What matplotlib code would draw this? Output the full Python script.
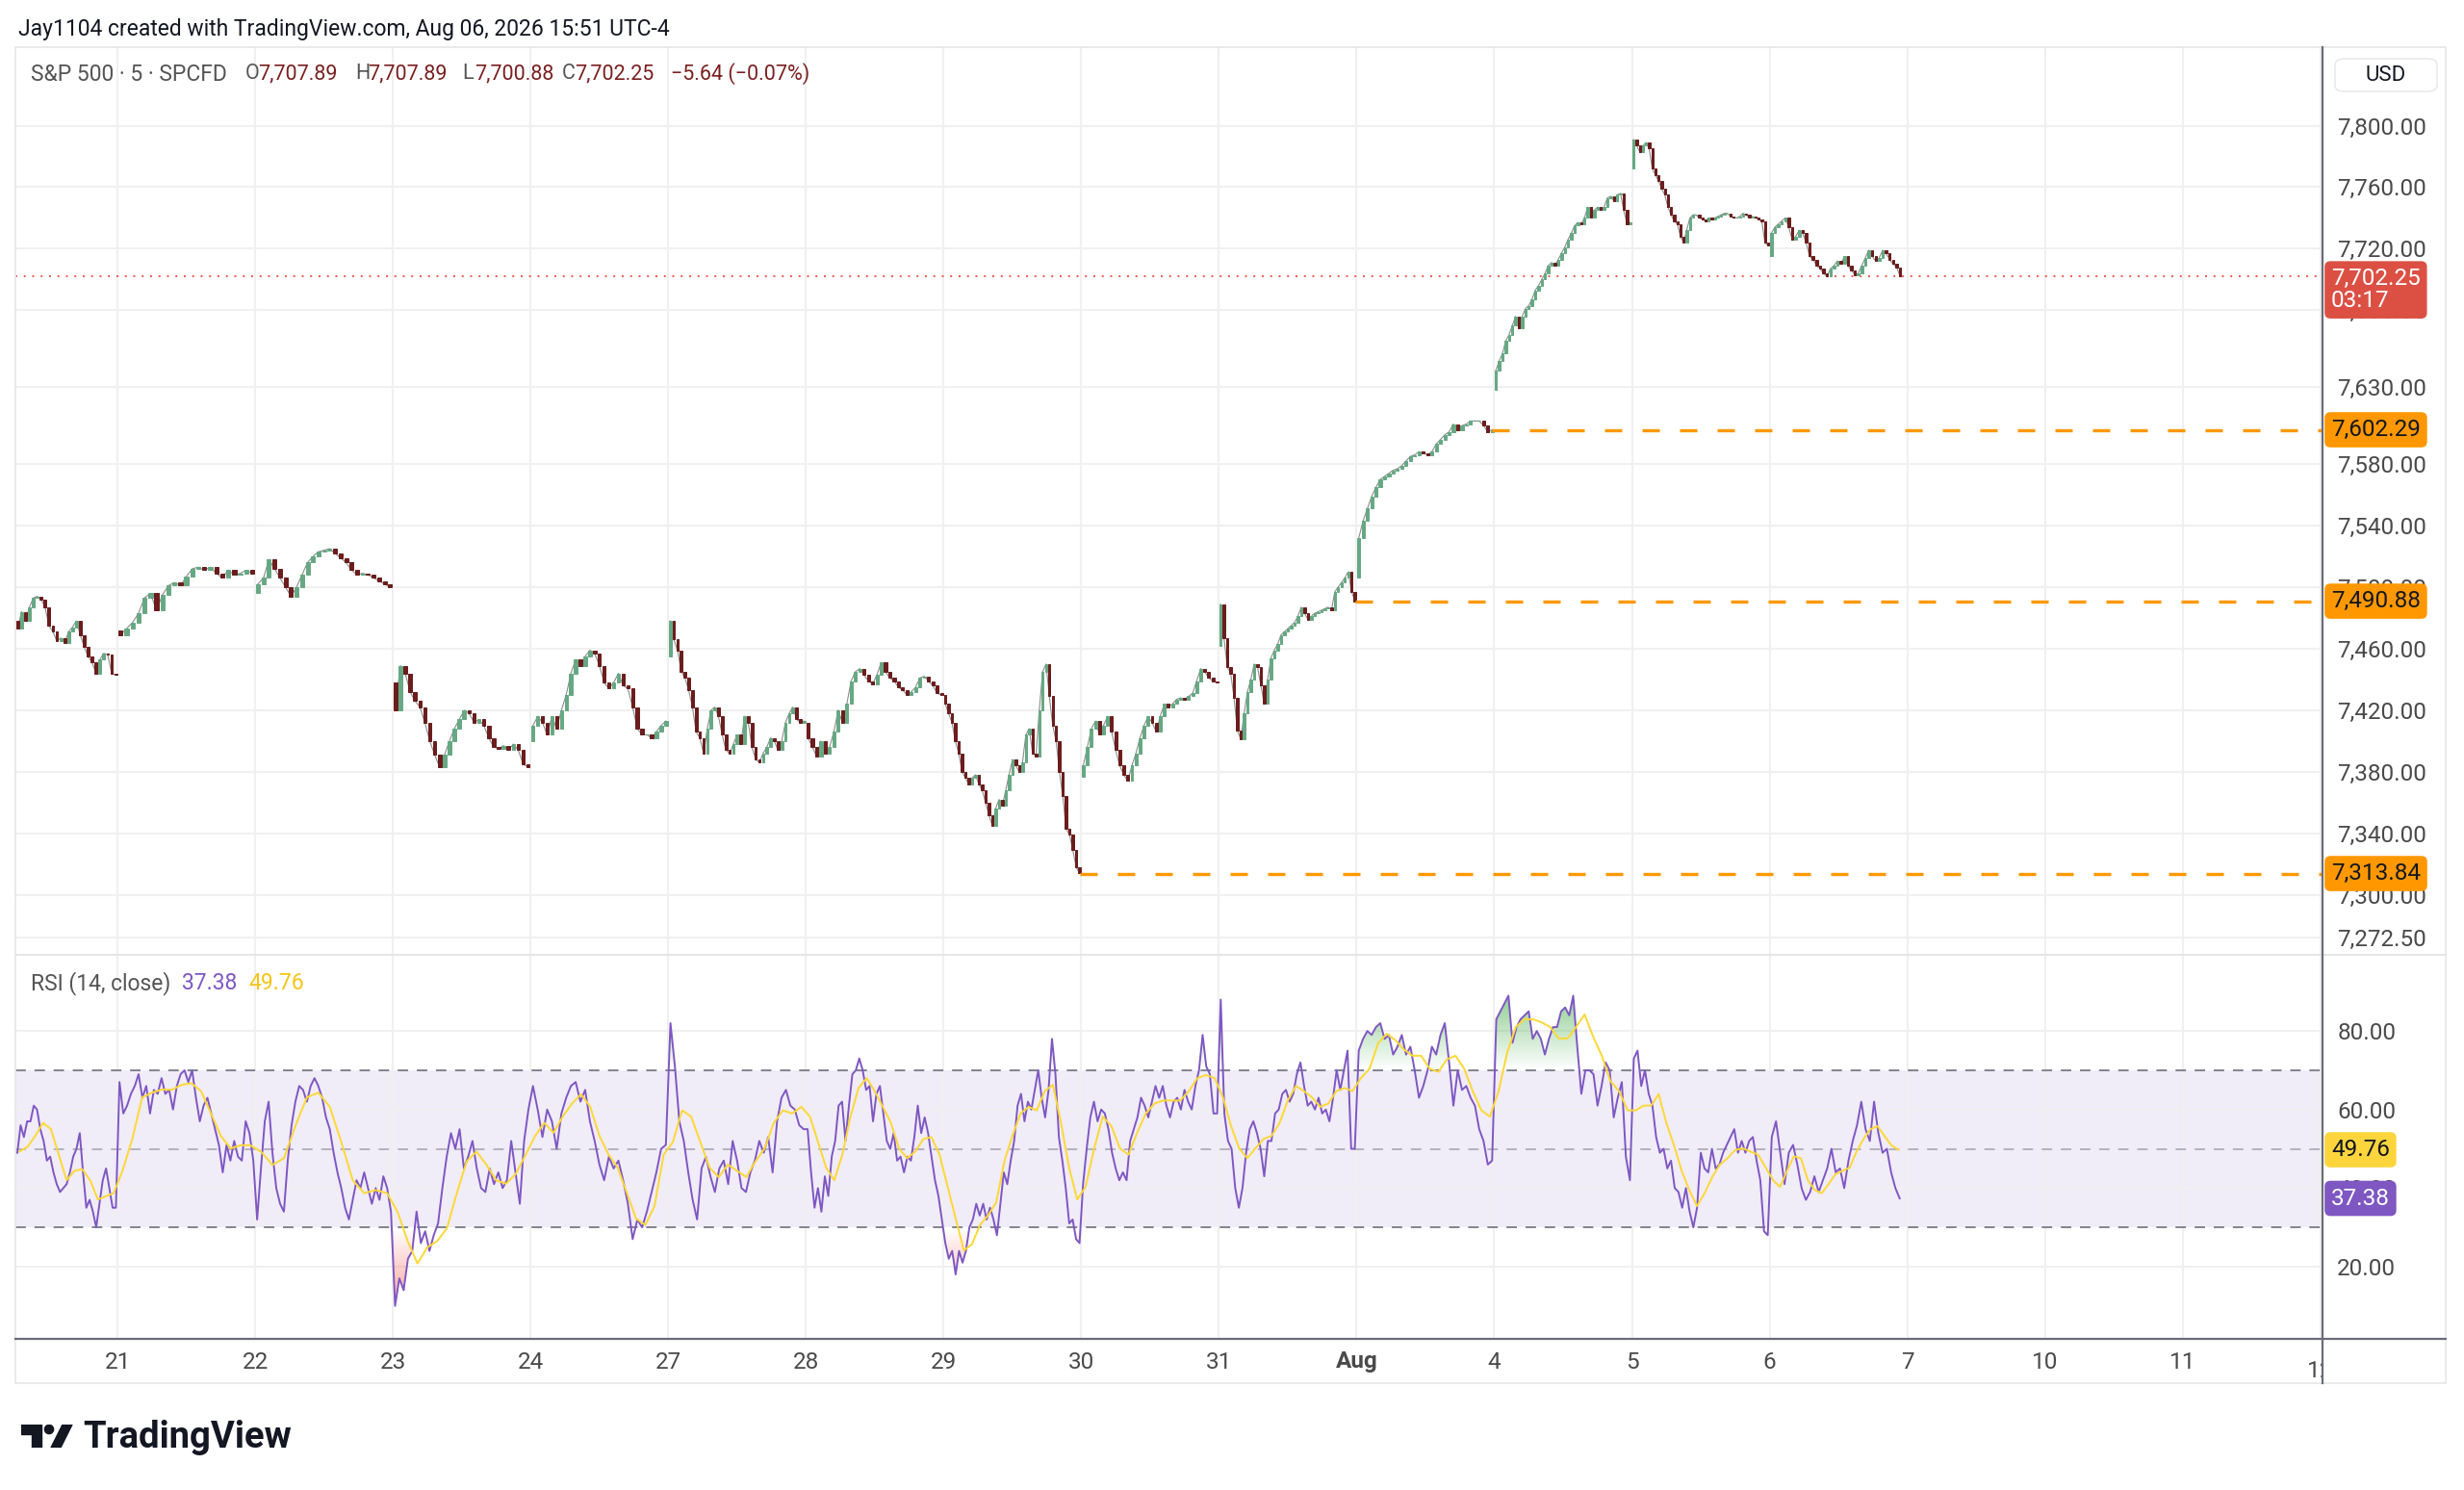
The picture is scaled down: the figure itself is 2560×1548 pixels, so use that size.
import numpy as np
import matplotlib.pyplot as plt
from matplotlib.patches import Rectangle, FancyBboxPatch, Circle, Polygon, PathPatch
from matplotlib.path import Path
from matplotlib.lines import Line2D
from matplotlib.colors import to_rgb
from matplotlib.transforms import blended_transform_factory

plt.rcParams['font.family'] = ['Roboto', 'DejaVu Sans']

# S&P 500 CFD, 5 min -- closes, one list per session
close_jul20 = [7473, 7484, 7478, 7487, 7493, 7494, 7492, 7487, 7475, 7471, 7465, 7467, 7464, 7471,
               7474, 7478, 7469, 7461, 7455, 7451, 7444, 7453, 7457, 7456, 7444, 7443]
close_jul21 = [7469, 7473, 7477, 7483, 7493, 7496, 7485, 7495, 7501, 7503, 7501, 7507, 7512, 7513,
               7511, 7513, 7509, 7506, 7511, 7508, 7509, 7511, 7509]
close_jul22 = [7502, 7506, 7518, 7512, 7506, 7500, 7494, 7500, 7508, 7516, 7520, 7523, 7524, 7525,
               7522, 7519, 7516, 7511, 7508, 7509, 7508, 7506, 7504, 7502, 7500]
close_jul23 = [7420, 7449, 7444, 7432, 7426, 7422, 7412, 7400, 7391, 7383, 7391, 7400, 7408, 7414,
               7420, 7418, 7412, 7414, 7410, 7402, 7396, 7395, 7397, 7394, 7398, 7394, 7385, 7383]
close_jul24 = [7410, 7416, 7412, 7404, 7416, 7408, 7420, 7430, 7444, 7453, 7449, 7455, 7459, 7457,
               7449, 7438, 7434, 7438, 7444, 7436, 7434, 7422, 7408, 7404, 7404, 7402, 7406, 7410, 7413]
close_jul27 = [7478, 7466, 7459, 7445, 7441, 7433, 7422, 7406, 7402, 7392, 7408, 7420, 7422, 7416,
               7404, 7394, 7392, 7398, 7404, 7398, 7416, 7412, 7396, 7388, 7386, 7392, 7396, 7402,
               7400, 7394, 7400, 7412, 7418, 7422, 7414, 7412, 7413]
close_jul28 = [7402, 7396, 7390, 7400, 7392, 7396, 7406, 7420, 7412, 7424, 7439, 7445, 7447, 7443,
               7439, 7437, 7443, 7451, 7445, 7441, 7439, 7435, 7433, 7430, 7432, 7435, 7441, 7442,
               7439, 7436, 7431, 7430]
close_jul29 = [7424, 7418, 7412, 7400, 7392, 7380, 7376, 7372, 7376, 7378, 7372, 7368, 7360, 7352,
               7345, 7356, 7362, 7358, 7368, 7378, 7388, 7384, 7380, 7386, 7404, 7408, 7392, 7390,
               7420, 7445, 7450, 7429, 7410, 7400, 7380, 7364, 7343, 7339, 7329, 7318, 7314]
close_jul30 = [7384, 7396, 7408, 7413, 7404, 7410, 7416, 7406, 7394, 7384, 7378, 7374, 7384, 7392,
               7402, 7410, 7416, 7412, 7406, 7416, 7424, 7422, 7424, 7427, 7428, 7427, 7429, 7431,
               7439, 7447, 7445, 7441, 7439, 7438]
close_jul31 = [7489, 7467, 7448, 7444, 7428, 7407, 7401, 7418, 7432, 7440, 7450, 7448, 7436, 7424,
               7440, 7454, 7459, 7463, 7469, 7471, 7473, 7475, 7477, 7481, 7487, 7483, 7479, 7481,
               7483, 7484, 7485, 7486, 7487, 7485, 7497, 7500, 7503, 7506, 7510, 7497, 7490.88]
close_aug03 = [7532, 7543, 7551, 7559, 7565, 7570, 7572, 7574, 7576, 7577, 7579, 7582, 7585, 7586,
               7588, 7587, 7586, 7588, 7593, 7596, 7599, 7601, 7606, 7602, 7605, 7606, 7608, 7608,
               7608, 7605, 7601, 7602.29]
close_aug04 = [7641, 7647, 7652, 7660, 7664, 7670, 7676, 7668, 7676, 7681, 7683, 7687, 7693, 7696,
               7700, 7704, 7709, 7711, 7709, 7713, 7717, 7721, 7726, 7730, 7735, 7737, 7736, 7740,
               7747, 7740, 7745, 7747, 7745, 7747, 7753, 7754, 7751, 7755, 7756, 7745, 7736, 7737]
close_aug05 = [7791, 7787, 7783, 7787, 7789, 7785, 7772, 7768, 7764, 7759, 7755, 7747, 7742, 7738,
               7736, 7728, 7724, 7732, 7740, 7742, 7742, 7740, 7739, 7738, 7740, 7739, 7740, 7741,
               7742, 7743, 7743, 7741, 7740, 7740, 7741, 7743, 7742, 7740, 7741, 7740, 7739, 7738,
               7724, 7722]
close_aug06 = [7730, 7734, 7736, 7738, 7740, 7734, 7726, 7728, 7732, 7730, 7724, 7715, 7713, 7709,
               7707, 7704, 7702, 7707, 7709, 7712, 7710, 7715, 7709, 7706, 7703, 7704, 7709, 7714,
               7719, 7715, 7712, 7714, 7719, 7717, 7713, 7710, 7707.89, 7702.25]
session_opens = [7478, 7472, 7496, 7438, 7400, 7455, 7412, 7430, 7377, 7462, 7506, 7628, 7772, 7715]

rsi_jul20 = [49, 56, 53, 57, 57, 61, 60, 55, 52, 47, 48, 44, 41, 39, 40, 41, 44, 48, 50, 54, 44,
             35, 37, 34, 30, 36, 42, 45, 40, 35, 35]
rsi_jul21 = [67, 59, 61, 64, 66, 69, 63, 66, 59, 65, 64, 68, 64, 65, 60, 66, 69, 70, 67, 70, 63,
             57, 61, 63, 59, 55, 51, 44, 51, 47, 52, 48, 47, 57, 54, 47]
rsi_jul22 = [32, 45, 57, 62, 49, 40, 36, 34, 47, 56, 62, 66, 65, 62, 66, 68, 66, 63, 58, 55, 49,
             44, 40, 35, 32, 37, 42, 40, 44, 40, 36, 40, 37, 43, 40, 34]
rsi_jul23 = [10, 17, 14, 22, 24, 34, 26, 29, 24, 28, 31, 40, 48, 54, 50, 55, 45, 48, 52, 45, 40,
             39, 45, 41, 44, 40, 42, 52, 44, 36, 52, 60]
rsi_jul24 = [66, 60, 53, 60, 57, 50, 59, 63, 66, 67, 62, 65, 57, 52, 46, 42, 48, 45, 47, 42, 36,
             27, 32, 30, 34, 39, 44, 50, 51]
rsi_jul27 = [82, 71, 57, 52, 44, 37, 32, 45, 48, 43, 39, 45, 47, 41, 52, 47, 40, 39, 44, 47, 52,
             49, 53, 44, 57, 63, 65, 61, 60, 56, 55]
rsi_jul28 = [55, 44, 35, 40, 34, 43, 38, 48, 52, 61, 62, 52, 61, 69, 70, 73, 70, 65, 66, 57, 64,
             66, 59, 52, 50, 54, 47, 48, 44, 48, 47, 53, 61, 54, 58, 54, 48, 42, 38, 32]
rsi_jul29 = [26, 22, 24, 18, 24, 21, 24, 30, 32, 36, 33, 36, 32, 35, 32, 28, 36, 44, 41, 47, 52,
             61, 64, 57, 62, 60, 65, 70, 63, 58, 65, 78, 69, 53, 47, 40, 31, 32, 27, 26]
rsi_jul30 = [41, 50, 58, 62, 57, 60, 59, 55, 49, 45, 42, 44, 42, 52, 55, 58, 63, 61, 58, 62, 66,
             63, 66, 61, 58, 62, 63, 60, 65, 62, 60, 66, 70, 79, 71, 69, 59, 59]
rsi_jul31 = [88, 59, 52, 50, 40, 35, 40, 49, 55, 57, 54, 50, 43, 52, 52, 59, 60, 64, 65, 62, 64,
             69, 72, 66, 61, 62, 60, 63, 59, 60, 57, 63, 70, 65, 70, 75, 50, 50]
rsi_aug03 = [75, 78, 80, 79, 81, 82, 78, 79, 74, 76, 79, 74, 76, 70, 63, 66, 70, 76, 74, 79, 82,
             72, 61, 70, 65, 66, 63, 61, 55, 52, 46, 47]
rsi_aug04 = [83, 85, 87, 89, 77, 81, 83, 84, 85, 78, 80, 78, 74, 78, 81, 81, 85, 86, 84, 89, 76,
             64, 70, 70, 69, 61, 66, 72, 70, 58, 63, 67, 48, 42]
rsi_aug05 = [73, 75, 66, 70, 64, 61, 53, 49, 50, 45, 47, 40, 39, 35, 40, 34, 30, 35, 49, 45, 44,
             50, 45, 46, 49, 51, 53, 55, 49, 52, 49, 52, 53, 47, 42, 29, 28]
rsi_aug06 = [53, 57, 49, 41, 49, 51, 46, 40, 37, 39, 43, 39, 42, 45, 50, 44, 45, 40, 47, 52, 56,
             62, 55, 52, 62, 54, 49, 50, 44, 40, 37.38]

ma_jul20 = [49.3, 50.5, 53.3, 56.6, 55, 48.5, 42, 44.4, 44.8, 42, 37.1, 37.9, 38.7]
ma_jul21 = [44.4, 52.5, 63.1, 64.3, 65.1, 65, 66.3, 66.7, 64.7, 59, 53.3, 50.1, 50.9, 50.9]
ma_jul22 = [49.3, 45.9, 47.6, 55.8, 63.1, 64.3, 60.7, 51.7, 42, 38.7, 39.5, 38.7]
ma_jul23 = [33.8, 26.5, 20.8, 24.9, 26.5, 29.8, 38.7, 46.8, 49.3, 46, 42, 41.1, 43.6, 48.5]
ma_jul24 = [53.3, 56.6, 54.1, 58.2, 61.5, 63.9, 60.7, 53.3, 48.5, 45.2, 38.7, 32.2, 30.6, 35.4, 48.5]
ma_jul27 = [51.7, 59.8, 58.2, 51.7, 45.2, 42.8, 46, 44.4, 42.8, 46.8, 50.1, 56.6, 59.8, 59, 60.7]
ma_jul28 = [58.2, 51.7, 45.2, 42, 48.5, 58.2, 65.5, 68, 64.7, 60.7, 56.6, 50.1, 47.6, 49.3, 52.5,
            53, 48.5]
ma_jul29 = [40.3, 32.2, 24.1, 25.7, 30.6, 33.1, 36.3, 46.8, 53.3, 59, 60.7, 59.8, 64.7, 66.3, 56.6,
            45.2, 37.1]
ma_jul30 = [40.3, 50.1, 58.2, 55.8, 50.1, 48.5, 54.1, 59, 61.5, 62.3, 62.3, 62.3, 64.7, 68, 68.8, 68]
ma_jul31 = [63.1, 55.8, 50.1, 47.6, 50.1, 52.5, 53.3, 56.6, 62.3, 66, 64.7, 63.1, 60.7, 61.5, 64.7,
            65.5, 64.7]
ma_aug03 = [68, 70.4, 76.9, 79.3, 77.7, 75.3, 73.7, 73.7, 70.4, 69.6, 72.8, 73.7, 70.4, 64.7, 59.8,
            58.2]
ma_aug04 = [64.7, 74.5, 81, 83, 83, 82.2, 81, 78.1, 78.1, 81, 84.2, 78.5, 73.7, 67.2, 64.7, 59.8]
ma_aug05 = [59.8, 61, 61, 63.9, 56.6, 50.9, 44.4, 39.5, 35.4, 38.7, 42.8, 46, 47.6, 49.7, 50.1,
            49.3, 48.5, 45.2]
ma_aug06 = [42, 40.3, 44.4, 48.1, 47.6, 42, 39.5, 38.7, 41.1, 43.6, 44.4, 45.2, 49.3, 52.5, 55,
            55.8, 53.3, 50.9, 49.76]

price_sessions = [close_jul20, close_jul21, close_jul22, close_jul23, close_jul24, close_jul27,
                  close_jul28, close_jul29, close_jul30, close_jul31, close_aug03, close_aug04,
                  close_aug05, close_aug06]
rsi_sessions = [rsi_jul20, rsi_jul21, rsi_jul22, rsi_jul23, rsi_jul24, rsi_jul27, rsi_jul28,
                rsi_jul29, rsi_jul30, rsi_jul31, rsi_aug03, rsi_aug04, rsi_aug05, rsi_aug06]
ma_sessions = [ma_jul20, ma_jul21, ma_jul22, ma_jul23, ma_jul24, ma_jul27, ma_jul28, ma_jul29,
               ma_jul30, ma_jul31, ma_aug03, ma_aug04, ma_aug05, ma_aug06]

time_labels = ['21', '22', '23', '24', '27', '28', '29', '30', '31', 'Aug', '4', '5', '6', '7',
               '10', '11', '12']
price_ticks = [7272.5, 7300, 7340, 7380, 7420, 7460, 7500, 7540, 7580, 7630, 7680, 7720, 7760, 7800]
rsi_ticks = [20, 40, 60, 80]

last_price = 7702.25
level_prices = [7602.29, 7490.88, 7313.84]
level_sessions = [10, 9, 7]   # session whose last bar starts the line
rsi_last, rsi_ma_last = 37.38, 49.76

# colours
UP, DOWN = '#66a883', '#6b1c1c'
GRID = '#f0f0f0'
TXT = '#4a4a4a'
ORANGE = '#ff9800'
PURPLE = '#7e57c2'
YELLOW = '#fdd835'
FS = 17.5
LFS = 15.5

W, H = 2560, 1548
fig = plt.figure(figsize=(W / 100, H / 100), dpi=100)


def fx(x):
    return x / W


def fy(y):
    return 1 - y / H


left, right = 16, 2413
top, split, bottom, axis_bottom, outer_right = 49, 992, 1391, 1437, 2541

ax = fig.add_axes([fx(left), fy(split), fx(right) - fx(left), fy(top) - fy(split)])
ax_rsi = fig.add_axes([fx(left), fy(bottom), fx(right) - fx(left), fy(split) - fy(bottom)], sharex=ax)

xmin, xmax = 0.258, 17.016
starts = [0.26] + list(range(1, 14))
ends = list(range(1, 14)) + [13.96]


def spread(values, k):
    n = len(values)
    return starts[k] + (np.arange(n) + 0.5) * (ends[k] - starts[k]) / n


# ---- price pane ----
last_x = []
for k, closes in enumerate(price_sessions):
    xs = spread(closes, k)
    c = np.array(closes, float)
    o = np.array([session_opens[k]] + closes[:-1], float)
    cols = np.where(c >= o, UP, DOWN)
    bw = 0.7 * (ends[k] - starts[k]) / len(closes)
    ax.plot(xs, c, color='#8c8c8c', lw=0.8, zorder=2.5)
    ax.bar(xs, np.abs(c - o), bottom=np.minimum(o, c), width=bw, color=cols,
           edgecolor=cols, linewidth=0.7, zorder=3)
    last_x.append(xs[-1])

for v, s in zip(level_prices, level_sessions):
    ax.hlines(v, last_x[s], xmax, colors=ORANGE, lw=2.4, linestyles=(0, (5.4, 6.3)), zorder=4)
ax.axhline(last_price, color='#ef5a4f', lw=1.4, ls=(0, (1, 3.5)), zorder=2)

ax.set_xlim(xmin, xmax)
ax.set_ylim(7261, 7851)
ax.set_yticks(price_ticks)
ax.set_yticklabels([f'{v:,.2f}' for v in price_ticks])
ax.yaxis.tick_right()
ax.tick_params(axis='y', length=0, pad=11, labelsize=FS, colors=TXT)
ax.tick_params(axis='x', length=0, labelbottom=False)
ax.set_xticks(range(1, 18))
ax.grid(True, color=GRID, lw=1.5, zorder=0)
ax.set_axisbelow(True)
for sp in ax.spines.values():
    sp.set_visible(False)

off = 9 / (right - left)


def badge(a, y, text, bg, fg, fs=FS):
    t = blended_transform_factory(a.transAxes, a.transData)
    a.text(1 + off, y, text, transform=t, ha='left', va='center', fontsize=fs, color=fg,
           zorder=10, clip_on=False, linespacing=1.0,
           bbox=dict(boxstyle='round,pad=0.28,rounding_size=0.25', fc=bg, ec='none'))


badge(ax, last_price - 9, f'{last_price:,.2f}\n03:17', '#dc5044', 'white')
for v in level_prices:
    badge(ax, v, f'{v:,.2f}', ORANGE, '#131722')

# ---- RSI pane ----
rx = np.concatenate([spread(r, k) for k, r in enumerate(rsi_sessions)])
rv = np.concatenate([np.array(r, float) for r in rsi_sessions])
mx = np.concatenate([spread(m, k) for k, m in enumerate(ma_sessions)])
mv = np.concatenate([np.array(m, float) for m in ma_sessions])

ax_rsi.axhspan(30, 70, color=PURPLE, alpha=0.11, lw=0, zorder=0.5)
for lvl, al in [(70, 1), (30, 1), (50, 0.55)]:
    ax_rsi.axhline(lvl, color='#787b86', alpha=al, lw=1.3, ls=(0, (6, 5)), zorder=1)


def gradient_fill(a, x, y, level, above, color):
    if above:
        coll = a.fill_between(x, y, level, where=y > level, interpolate=True, color='none', lw=0)
        ext = [x[0], x[-1], level, 90]
        alphas = np.linspace(0.0, 0.65, 100)
    else:
        coll = a.fill_between(x, y, level, where=y < level, interpolate=True, color='none', lw=0)
        ext = [x[0], x[-1], 8, level]
        alphas = np.linspace(0.55, 0.0, 100)
    paths = coll.get_paths()
    if not paths:
        return
    clip = PathPatch(Path.make_compound_path(*paths), transform=a.transData, fc='none', ec='none')
    a.add_patch(clip)
    rgba = np.zeros((100, 1, 4))
    rgba[..., :3] = to_rgb(color)
    rgba[:, 0, 3] = alphas
    im = a.imshow(rgba, extent=ext, origin='lower', aspect='auto', zorder=1.5, interpolation='bilinear')
    im.set_clip_path(clip)


gradient_fill(ax_rsi, rx, rv, 70, True, '#4caf50')
gradient_fill(ax_rsi, rx, rv, 30, False, '#f44336')

ax_rsi.plot(rx, rv, color=PURPLE, lw=1.4, zorder=3)
ax_rsi.plot(mx, mv, color=YELLOW, lw=1.4, zorder=4)

ax_rsi.set_xlim(xmin, xmax)
ax_rsi.set_ylim(1.6, 99.4)
ax_rsi.set_yticks(rsi_ticks)
ax_rsi.set_yticklabels([f'{v:.2f}' for v in rsi_ticks])
ax_rsi.yaxis.tick_right()
ax_rsi.tick_params(axis='y', length=0, pad=11, labelsize=FS, colors=TXT)
ax_rsi.set_xticks(range(1, 18))
ax_rsi.set_xticklabels(time_labels[:-1] + [''])
ax_rsi.tick_params(axis='x', length=0, pad=9, labelsize=FS, colors=TXT)
for lab in ax_rsi.get_xticklabels():
    if lab.get_text() == 'Aug':
        lab.set_fontweight('bold')
ax_rsi.grid(True, color=GRID, lw=1.5, zorder=0)
ax_rsi.set_axisbelow(True)
for sp in ax_rsi.spines.values():
    sp.set_visible(False)

badge(ax_rsi, rsi_ma_last, f'{rsi_ma_last:.2f}', '#fcd53c', '#131722')
badge(ax_rsi, rsi_last, f'{rsi_last:.2f}', PURPLE, 'white')

# last time label is cut by the price scale
lab12 = ax_rsi.text(17, -0.055, time_labels[-1],
                    transform=blended_transform_factory(ax_rsi.transData, ax_rsi.transAxes),
                    ha='center', va='top', fontsize=FS, color=TXT, clip_on=False)
clip_rect = Rectangle((0, 0), fx(right), 1, transform=fig.transFigure, fc='none', ec='none')
lab12.set_clip_path(clip_rect)
lab12.set_clip_on(True)

# ---- frame lines ----
fig.add_artist(Rectangle((fx(left), fy(axis_bottom)), fx(outer_right) - fx(left), fy(top) - fy(axis_bottom),
                         transform=fig.transFigure, fill=False, ec='#e6e6e6', lw=1.2))
fig.add_artist(Line2D([fx(left), fx(outer_right)], [fy(split), fy(split)], transform=fig.transFigure,
                      color='#e6e6e6', lw=1.5))
fig.add_artist(Line2D([fx(left), fx(outer_right)], [fy(bottom), fy(bottom)], transform=fig.transFigure,
                      color='#6a6d78', lw=1.6))
fig.add_artist(Line2D([fx(right), fx(right)], [fy(axis_bottom), fy(top)], transform=fig.transFigure,
                      color='#6a6d78', lw=1.6))

# ---- texts ----
fig.text(fx(19), fy(30), 'Jay1104 created with TradingView.com, Aug 06, 2026 15:51 UTC-4',
         fontsize=16.5, color='#131722', va='center', ha='left')
fig.text(fx(32), fy(77), 'S&P 500 · 5 · SPCFD', fontsize=16.5, color='#555555', va='center')
for lx, letter, val in [(255, 'O', '7,707.89'), (369, 'H', '7,707.89'), (480, 'L', '7,700.88'), (584, 'C', '7,702.25')]:
    fig.text(fx(lx), fy(77), letter, fontsize=LFS, color='#555555', va='center')
    fig.text(fx(lx + 13), fy(77), val, fontsize=LFS, color='#7a2020', va='center')
fig.text(fx(697), fy(77), '−5.64 (−0.07%)', fontsize=LFS, color='#7a2020', va='center')

fig.text(fx(32), fy(1022), 'RSI (14, close)', fontsize=16.5, color='#555555', va='center')
fig.text(fx(189), fy(1022), f'{rsi_last:.2f}', fontsize=16.5, color=PURPLE, va='center')
fig.text(fx(258), fy(1022), f'{rsi_ma_last:.2f}', fontsize=16.5, color='#f5c518', va='center')

fig.add_artist(FancyBboxPatch((fx(2426), fy(95)), fx(106), 34 / H, boxstyle='round,pad=0,rounding_size=0.004',
                              transform=fig.transFigure, fc='white', ec='#e6e6e6', lw=1))
fig.text(fx(2479), fy(78), 'USD', fontsize=16, color='#131722', ha='center', va='center')

# TradingView logo
lax = fig.add_axes([fx(22), fy(1504), 54 / W, 24 / H])
lax.set_xlim(0, 54)
lax.set_ylim(0, 24)
lax.axis('off')
lax.add_patch(Polygon([(0, 24), (21, 24), (21, 0), (11, 0), (11, 14), (0, 14)], closed=True, color='#131722'))
lax.add_patch(Circle((29, 19), 4.6, color='#131722'))
lax.add_patch(Polygon([(31, 0), (41, 0), (53, 24), (43, 24)], closed=True, color='#131722'))
fig.text(fx(86), fy(1494), 'TradingView', fontsize=27.5, fontweight='bold', color='#131722', va='center')

fig.savefig('out.png', dpi=100, facecolor='white')
